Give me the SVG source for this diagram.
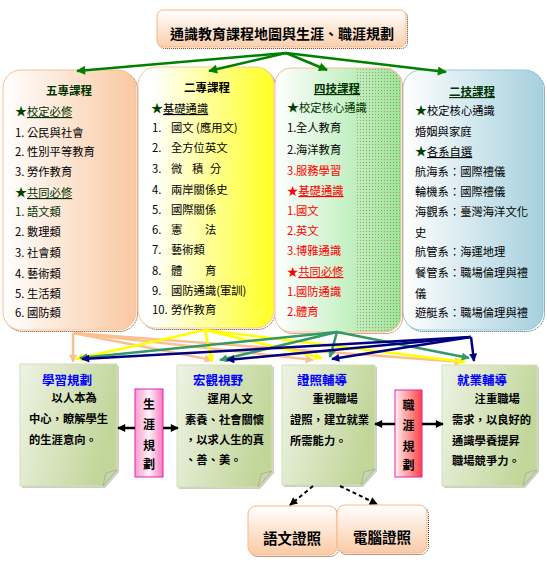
<svg xmlns="http://www.w3.org/2000/svg" width="547" height="568" viewBox="0 0 547 568">
<style>
text{font-family:"Noto Sans CJK TC","Noto Sans CJK SC",sans-serif;font-size:11.3px;fill:#000}
.b{font-weight:bold}
.g{fill:#003300}
.r{fill:#ff0000}
.u{text-decoration:underline}
.hd{font-size:11.5px;font-weight:bold;text-anchor:middle}
.bl{fill:#0000ff;font-size:12.5px;font-weight:bold;text-anchor:middle}
.st{font-size:12px;fill:#004000}
.pk{font-size:12px;font-weight:bold;text-anchor:middle}
.cert{font-size:14.5px;font-weight:bold;text-anchor:middle}
.shadow{fill:none;stroke:#6b3b1b;stroke-width:1;stroke-dasharray:1 1}
.gb{fill:url(#gGreen);stroke:#d3dfb8;stroke-width:1}
.curl{fill:#c9d6ad;stroke:#9fb07e;stroke-width:0.8}
.bsh{fill:#cfcfc4}
.ln{fill:none;stroke-width:2.5}
</style>
<defs>
<linearGradient id="gTitle" x1="0" y1="0" x2="0" y2="1"><stop offset="0" stop-color="#ffffff"/><stop offset="1" stop-color="#fbcfac"/></linearGradient>
<linearGradient id="gCert" x1="0" y1="0" x2="0" y2="1"><stop offset="0" stop-color="#ffffff"/><stop offset="1" stop-color="#fbcaa5"/></linearGradient>
<linearGradient id="gC1" x1="0" y1="0" x2="1" y2="0"><stop offset="0" stop-color="#ffffff"/><stop offset="1" stop-color="#fac8a2"/></linearGradient>
<linearGradient id="gC2" x1="0" y1="0" x2="1" y2="0"><stop offset="0.1" stop-color="#ffffff"/><stop offset="1" stop-color="#ffff22"/></linearGradient>
<linearGradient id="gC3" x1="0" y1="0" x2="1" y2="0"><stop offset="0" stop-color="#ffffff"/><stop offset="1" stop-color="#9ae69a"/></linearGradient>
<linearGradient id="gC4" x1="0" y1="0" x2="1" y2="0"><stop offset="0" stop-color="#ffffff"/><stop offset="1" stop-color="#a6d0de"/></linearGradient>
<linearGradient id="gGreen" x1="0" y1="0" x2="1" y2="0.3"><stop offset="0" stop-color="#eef3e4"/><stop offset="1" stop-color="#c2d69a"/></linearGradient>
<linearGradient id="gPk1" x1="0" y1="0" x2="1" y2="0"><stop offset="0" stop-color="#ff99cc"/><stop offset="0.5" stop-color="#fff2f8"/><stop offset="1" stop-color="#ff77bb"/></linearGradient>
<linearGradient id="gPk2" x1="0" y1="0" x2="1" y2="0"><stop offset="0" stop-color="#fff0f0"/><stop offset="1" stop-color="#ff4040"/></linearGradient>
<pattern id="pDots" width="3" height="3" patternUnits="userSpaceOnUse"><rect x="0" y="0" width="1" height="1" fill="#b04a30"/></pattern>
<clipPath id="cC3"><rect x="275" y="68" width="126" height="264" rx="16"/></clipPath>
<marker id="mGreen" viewBox="0 0 10 10" refX="9" refY="5" markerWidth="10" markerHeight="9" markerUnits="userSpaceOnUse" orient="auto"><path d="M0,0 L10,5 L0,10 z" fill="#008000"/></marker>
<marker id="mPeach" viewBox="0 0 10 10" refX="9" refY="5" markerWidth="9" markerHeight="8" markerUnits="userSpaceOnUse" orient="auto"><path d="M0,0 L10,5 L0,10 z" fill="#fac090"/></marker>
<marker id="mYel" viewBox="0 0 10 10" refX="9" refY="5" markerWidth="9" markerHeight="8" markerUnits="userSpaceOnUse" orient="auto"><path d="M0,0 L10,5 L0,10 z" fill="#ffff00"/></marker>
<marker id="mSea" viewBox="0 0 10 10" refX="9" refY="5" markerWidth="9" markerHeight="8" markerUnits="userSpaceOnUse" orient="auto"><path d="M0,0 L10,5 L0,10 z" fill="#339966"/></marker>
<marker id="mNavy" viewBox="0 0 10 10" refX="9" refY="5" markerWidth="9" markerHeight="8" markerUnits="userSpaceOnUse" orient="auto"><path d="M0,0 L10,5 L0,10 z" fill="#000080"/></marker>
<marker id="mBlack" viewBox="0 0 10 10" refX="9" refY="5" markerWidth="9" markerHeight="8" markerUnits="userSpaceOnUse" orient="auto"><path d="M0,0 L10,5 L0,10 z" fill="#000000"/></marker>
</defs>

<rect width="547" height="568" fill="#ffffff"/>

<g id="title">
<rect x="158.5" y="11.5" width="249" height="37" rx="6" class="shadow"/>
<rect x="157" y="10" width="249" height="37" rx="6" fill="url(#gTitle)" stroke="#f5b88a"/>
<text x="282" y="39" class="b" style="font-size:14px" text-anchor="middle">通識教育課程地圖與生涯、職涯規劃</text>
</g>

<g id="col-wuzhuan">
<rect x="4.5" y="71.5" width="133" height="260" rx="18" class="shadow"/>
<rect x="3" y="70" width="133" height="260" rx="18" fill="url(#gC1)" stroke="#f8c090"/>
<text x="69" y="95" class="hd g">五專課程</text>
<text x="15" y="116"><tspan class="st">★</tspan><tspan class="g u">校定必修</tspan></text>
<text x="15" y="137">1.<tspan x="27">公民與社會</tspan></text>
<text x="15" y="156">2.<tspan x="27">性別平等教育</tspan></text>
<text x="15" y="176">3.<tspan x="27">勞作教育</tspan></text>
<text x="15" y="197"><tspan class="st">★</tspan><tspan class="g u">共同必修</tspan></text>
<text x="15" y="216" class="g">1.<tspan x="27">語文類</tspan></text>
<text x="15" y="236">2.<tspan x="27">數理類</tspan></text>
<text x="15" y="257">3.<tspan x="27">社會類</tspan></text>
<text x="15" y="278">4.<tspan x="27">藝術類</tspan></text>
<text x="15" y="298">5.<tspan x="27">生活類</tspan></text>
<text x="15" y="317">6.<tspan x="27">國防類</tspan></text>
</g>

<g id="col-erzhuan">
<rect x="139.5" y="68.5" width="136" height="261" rx="18" class="shadow"/>
<rect x="138" y="67" width="136" height="261" rx="18" fill="url(#gC2)" stroke="#f8c8a0"/>
<text x="207" y="92" class="hd">二專課程</text>
<text x="151" y="113"><tspan class="st">★</tspan><tspan class="u">基礎通識</tspan></text>
<text x="152" y="132">1.<tspan x="171">國文 (應用文)</tspan></text>
<text x="152" y="152">2.<tspan x="171">全方位英文</tspan></text>
<text x="152" y="173">3.<tspan x="171">微</tspan> <tspan x="192">積</tspan> <tspan x="210">分</tspan></text>
<text x="152" y="194">4.<tspan x="171">兩岸關係史</tspan></text>
<text x="152" y="214">5.<tspan x="171">國際關係</tspan></text>
<text x="152" y="234">6.<tspan x="171">憲　　法</tspan></text>
<text x="152" y="254">7.<tspan x="171">藝術類</tspan></text>
<text x="152" y="275">8.<tspan x="171">體　　育</tspan></text>
<text x="152" y="295">9.<tspan x="171">國防通識(軍訓)</tspan></text>
<text x="152" y="314">10.<tspan x="171">勞作教育</tspan></text>
</g>

<g id="col-siji">
<rect x="276.5" y="69.5" width="126" height="264" rx="16" fill="none" stroke="#b05010" stroke-width="1" stroke-dasharray="1 1"/>
<rect x="275" y="68" width="126" height="264" rx="16" fill="url(#gC3)"/>
<rect x="356" y="68" width="45" height="264" fill="url(#pDots)" opacity="0.55" clip-path="url(#cC3)"/>
<rect x="275" y="68" width="126" height="264" rx="16" fill="none" stroke="#f8c090"/>
<text x="337" y="93" class="hd g u">四技課程</text>
<text x="287" y="112" class="g"><tspan class="st">★</tspan><tspan>校定核心通識</tspan></text>
<text x="287" y="132">1.<tspan x="296">全人教育</tspan></text>
<text x="287" y="154">2.<tspan x="296">海洋教育</tspan></text>
<text x="287" y="175" class="r">3.<tspan x="296">服務學習</tspan></text>
<text x="287" y="195" class="r"><tspan>★</tspan><tspan class="u">基礎通識</tspan></text>
<text x="287" y="215" class="r">1.<tspan x="296">國文</tspan></text>
<text x="287" y="235" class="r">2.<tspan x="296">英文</tspan></text>
<text x="287" y="255" class="r">3.<tspan x="296">博雅通識</tspan></text>
<text x="287" y="276" class="r"><tspan>★</tspan><tspan class="u">共同必修</tspan></text>
<text x="287" y="296" class="r">1.<tspan x="296">國防通識</tspan></text>
<text x="287" y="316" class="r">2.<tspan x="296">體育</tspan></text>
</g>

<g id="col-erji">
<rect x="404.5" y="71.5" width="140" height="260" rx="18" fill="none" stroke="#2a6070" stroke-width="1" stroke-dasharray="1 1"/>
<rect x="403" y="70" width="140" height="260" rx="18" fill="url(#gC4)" stroke="#96c8d8"/>
<text x="472" y="96" class="hd g u">二技課程</text>
<text x="415" y="115"><tspan class="st">★</tspan><tspan>校定核心通識</tspan></text>
<text x="415" y="136">婚姻與家庭</text>
<text x="415" y="156"><tspan class="st">★</tspan><tspan class="u">各系自選</tspan></text>
<text x="415" y="176">航海系：國際禮儀</text>
<text x="415" y="196">輪機系：國際禮儀</text>
<text x="415" y="216">海觀系：臺灣海洋文化</text>
<text x="415" y="237">史</text>
<text x="415" y="256">航管系：海運地理</text>
<text x="415" y="277">餐管系：職場倫理與禮</text>
<text x="415" y="298">儀</text>
<text x="415" y="317">遊艇系：職場倫理與禮</text>
</g>

<g id="box-learning">
<path d="M22 366 H119 V472 L105 488 H22 Z" class="bsh"/>
<path d="M20 364 H117 V470 L103 486 H20 Z" class="gb"/>
<path d="M117 470 L103 486 L106 473 Z" class="curl"/>
<text x="67" y="385" class="bl">學習規劃</text>
<text x="29" y="402" class="b">　　以人本為</text>
<text x="29" y="423" class="b">中心，瞭解學生</text>
<text x="29" y="444" class="b">的生涯意向。</text>
</g>

<g id="box-vision">
<path d="M179 367 H274 V473 L260 489 H179 Z" class="bsh"/>
<path d="M177 365 H272 V471 L258 487 H177 Z" class="gb"/>
<path d="M272 471 L258 487 L261 474 Z" class="curl"/>
<text x="218" y="385" class="bl">宏觀視野</text>
<text x="185" y="403" class="b">　　運用人文</text>
<text x="185" y="424" class="b">素養、社會關懷</text>
<text x="185" y="444" class="b">，以求人生的真</text>
<text x="185" y="464" class="b">、善、美。</text>
</g>

<g id="box-cert">
<path d="M284 367 H377 V471 L363 487 H284 Z" class="bsh"/>
<path d="M282 365 H375 V469 L361 485 H282 Z" class="gb"/>
<path d="M375 469 L361 485 L364 472 Z" class="curl"/>
<text x="322" y="385" class="bl">證照輔導</text>
<text x="290" y="403" class="b">　　重視職場</text>
<text x="290" y="424" class="b">證照，建立就業</text>
<text x="290" y="445" class="b">所需能力。</text>
</g>

<g id="box-career">
<path d="M444 367 H539 V472 L525 488 H444 Z" class="bsh"/>
<path d="M442 365 H537 V470 L523 486 H442 Z" class="gb"/>
<path d="M537 470 L523 486 L526 473 Z" class="curl"/>
<text x="482" y="385" class="bl">就業輔導</text>
<text x="452" y="403" class="b">　　注重職場</text>
<text x="452" y="424" class="b">需求，以良好的</text>
<text x="452" y="445" class="b">通識學養提昇</text>
<text x="452" y="465" class="b">職場競爭力。</text>
</g>

<g id="pink-career-plan">
<rect x="135" y="389" width="28" height="88" fill="url(#gPk1)" stroke="#e020c0"/>
<text x="149" y="409" class="pk">生</text>
<text x="149" y="429" class="pk">涯</text>
<text x="149" y="450" class="pk">規</text>
<text x="149" y="469" class="pk">劃</text>
</g>

<g id="pink-job-plan">
<rect x="395" y="390" width="27" height="87" fill="url(#gPk2)" stroke="#e020c0"/>
<text x="408.5" y="410" class="pk">職</text>
<text x="408.5" y="430" class="pk">涯</text>
<text x="408.5" y="451" class="pk">規</text>
<text x="408.5" y="470" class="pk">劃</text>
</g>

<g id="cert-lang">
<rect x="249.5" y="507.5" width="89" height="49" rx="8" class="shadow"/>
<rect x="248" y="506" width="89" height="49" rx="8" fill="url(#gCert)" stroke="#f8b888"/>
<text x="292" y="544" class="cert">語文證照</text>
</g>

<g id="cert-comp">
<rect x="338.5" y="506.5" width="90" height="48" rx="8" class="shadow"/>
<rect x="337" y="505" width="90" height="48" rx="8" fill="url(#gCert)" stroke="#f8b888"/>
<text x="382" y="543" class="cert">電腦證照</text>
</g>

<g id="connectors">
<g stroke="#008000" class="ln" marker-end="url(#mGreen)">
<line x1="286" y1="53" x2="77" y2="71"/>
<line x1="286" y1="53" x2="209" y2="71"/>
<line x1="286" y1="53" x2="327" y2="70"/>
<line x1="286" y1="53" x2="446" y2="72"/>
</g>
<g stroke="#fac090" class="ln" marker-end="url(#mPeach)">
<line x1="73" y1="333" x2="73" y2="362"/>
<line x1="73" y1="333" x2="212" y2="360"/>
<line x1="73" y1="333" x2="313" y2="360"/>
<line x1="73" y1="333" x2="462" y2="362"/>
</g>
<g stroke="#ffff00" class="ln" marker-end="url(#mYel)">
<line x1="205" y1="330" x2="76" y2="359"/>
<line x1="205" y1="330" x2="212" y2="362"/>
<line x1="205" y1="330" x2="322" y2="358"/>
<line x1="205" y1="330" x2="465" y2="362"/>
</g>
<g stroke="#339966" class="ln" marker-end="url(#mSea)">
<line x1="337" y1="332" x2="80" y2="358"/>
<line x1="337" y1="332" x2="220" y2="360"/>
<line x1="337" y1="332" x2="330" y2="357"/>
<line x1="337" y1="332" x2="469" y2="358"/>
</g>
<g stroke="#000080" class="ln" marker-end="url(#mNavy)">
<line x1="471" y1="337" x2="82" y2="359"/>
<line x1="471" y1="337" x2="227" y2="360"/>
<line x1="471" y1="337" x2="332" y2="359"/>
<line x1="471" y1="337" x2="474" y2="361"/>
</g>
<g stroke="#000" class="ln" marker-end="url(#mBlack)">
<line x1="135" y1="428" x2="118" y2="428"/>
<line x1="163" y1="428" x2="178" y2="428"/>
<line x1="395" y1="424" x2="375" y2="424"/>
<line x1="422" y1="424" x2="443" y2="424"/>
</g>
<g stroke="#000" fill="none" stroke-width="2" stroke-dasharray="4 3" marker-end="url(#mBlack)">
<line x1="313" y1="486" x2="290" y2="505"/>
<line x1="340" y1="486" x2="377" y2="504"/>
</g>
</g>
</svg>
